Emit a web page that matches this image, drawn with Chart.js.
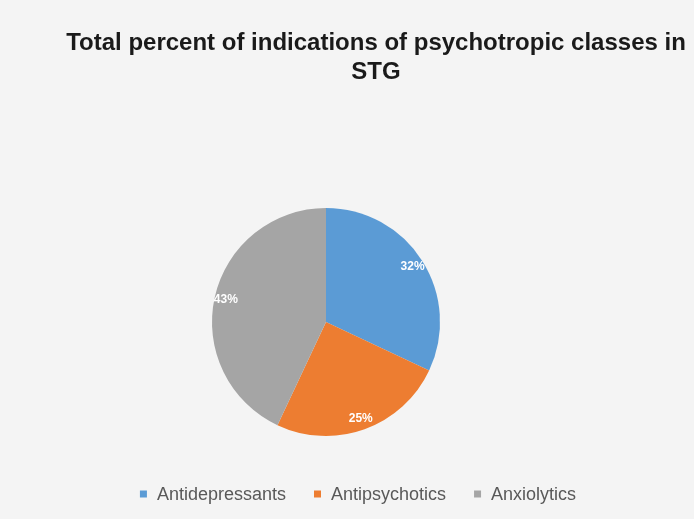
<!DOCTYPE html>
<html lang="en">
<head>
  <meta charset="UTF-8" />
  <title>Psychotropic classes in STG</title>
  <script src="https://cdn.jsdelivr.net/npm/chart.js"></script>
  <style>
    html, body { margin: 0; padding: 0; background: #f4f4f4; }
    #wrap { width: 694px; height: 519px; }
  </style>
</head>
<body>
  <div id="wrap"><canvas id="pieChart" width="694" height="519"></canvas></div>
  <script>
    // data
    const classes = ["Antidepressants", "Antipsychotics", "Anxiolytics"];
    const percents = [32, 25, 43];
    const sliceColors = ["#5b9bd5", "#ed7d31", "#a5a5a5"];
    const titleLines = ["Total percent of indications of psychotropic classes in", "STG"];

    // title + legend drawn by hand so they sit where the original has them
    const decorPlugin = {
      id: "decor",
      afterDraw(chart) {
        const ctx = chart.ctx;
        ctx.save();
        // title
        ctx.fillStyle = "#1a1a1a";
        ctx.font = "bold 24px 'Liberation Sans', Arial, sans-serif";
        ctx.textAlign = "center";
        ctx.textBaseline = "middle";
        ctx.fillText(titleLines[0], 376, 43);
        ctx.fillText(titleLines[1], 376, 72);

        // legend
        ctx.font = "18px 'Liberation Sans', Arial, sans-serif";
        ctx.textAlign = "left";
        const box = 7, gap = 10, spacing = 28;
        const widths = classes.map(c => box + gap + ctx.measureText(c).width);
        const total = widths.reduce((a, b) => a + b, 0) + spacing * (classes.length - 1);
        let x = 358 - total / 2;
        const y = 494;
        classes.forEach((c, i) => {
          ctx.fillStyle = sliceColors[i];
          ctx.fillRect(x, y - box / 2, box, box);
          ctx.fillStyle = "#595959";
          ctx.fillText(c, x + box + gap, y + 1);
          x += widths[i] + spacing;
        });

        // slice labels
        const meta = chart.getDatasetMeta(0);
        ctx.fillStyle = "#ffffff";
        ctx.font = "bold 12px 'Liberation Sans', Arial, sans-serif";
        ctx.textAlign = "center";
        meta.data.forEach((arc, i) => {
          const p = arc.getProps(["x", "y", "startAngle", "endAngle", "outerRadius"], true);
          const mid = (p.startAngle + p.endAngle) / 2;
          const r = p.outerRadius * 0.9;
          ctx.fillText(percents[i] + "%", p.x + Math.cos(mid) * r, p.y + Math.sin(mid) * r);
        });
        ctx.restore();
      }
    };

    new Chart(document.getElementById("pieChart"), {
      type: "pie",
      data: {
        labels: classes,
        datasets: [{
          data: percents,
          backgroundColor: sliceColors,
          borderWidth: 0
        }]
      },
      options: {
        responsive: false,
        animation: false,
        layout: { padding: { top: 208, bottom: 83, left: 0, right: 42 } },
        plugins: {
          legend: { display: false },
          title: { display: false },
          tooltip: { enabled: false }
        }
      },
      plugins: [decorPlugin]
    });
  </script>
</body>
</html>
